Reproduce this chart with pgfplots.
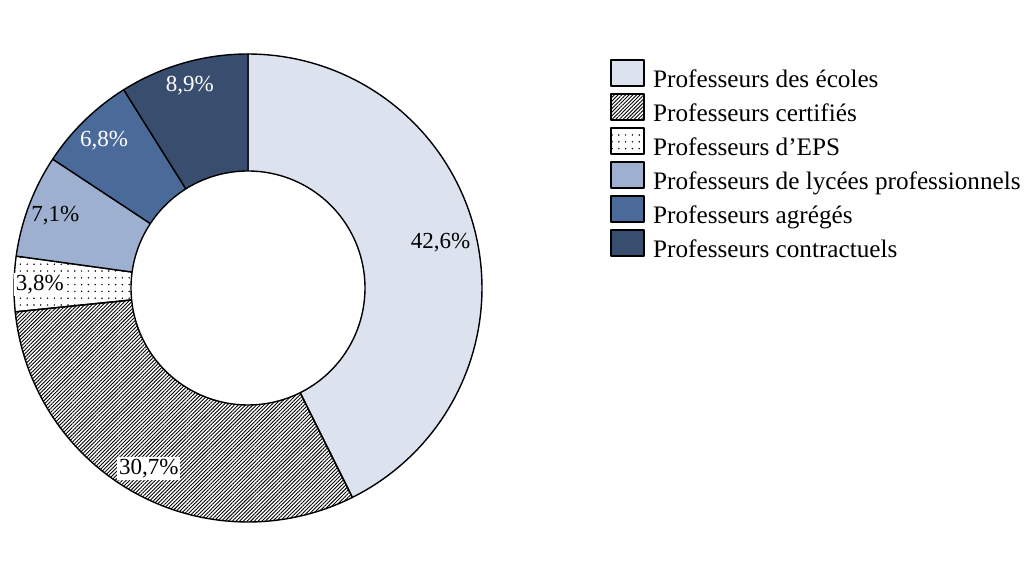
\documentclass[border=0pt]{standalone}
\usepackage{fontspec}
\setmainfont{Liberation Serif}
\usepackage{pgfplots}
\usepackage{pgfplotstable}
\pgfplotsset{compat=1.18}
\usetikzlibrary{patterns.meta}

\definecolor{cEcoles}{RGB}{220,227,239}
\definecolor{cLP}{RGB}{157,176,207}
\definecolor{cAgr}{RGB}{74,106,153}
\definecolor{cContr}{RGB}{57,78,110}

\pgfplotstableread{
value
42.6
30.7
3.8
7.1
6.8
8.9
}\shares

\pgfplotstablegetelem{0}{value}\of\shares\let\vA\pgfplotsretval
\pgfplotstablegetelem{1}{value}\of\shares\let\vB\pgfplotsretval
\pgfplotstablegetelem{2}{value}\of\shares\let\vC\pgfplotsretval
\pgfplotstablegetelem{3}{value}\of\shares\let\vD\pgfplotsretval
\pgfplotstablegetelem{4}{value}\of\shares\let\vE\pgfplotsretval
\pgfplotstablegetelem{5}{value}\of\shares\let\vF\pgfplotsretval
\pgfmathsetmacro\tot{\vA+\vB+\vC+\vD+\vE+\vF}
\pgfmathsetmacro\aO{90}
\pgfmathsetmacro\aA{90-(\vA)/\tot*360}
\pgfmathsetmacro\aB{90-(\vA+\vB)/\tot*360}
\pgfmathsetmacro\aC{90-(\vA+\vB+\vC)/\tot*360}
\pgfmathsetmacro\aD{90-(\vA+\vB+\vC+\vD)/\tot*360}
\pgfmathsetmacro\aE{90-(\vA+\vB+\vC+\vD+\vE)/\tot*360}
\pgfmathsetmacro\aF{-270}

\tikzset{lbl/.style={font=\fontsize{11.5}{12}\selectfont, inner sep=1pt}}

\newcommand\slice[3]{%
  \addplot[#3, samples at={-1,0,1,...,90}, variable=\t]
   ({ifthenelse(\t<0,0,cos((#1)+((#2)-(#1))*\t/90))},
    {ifthenelse(\t<0,0,sin((#1)+((#2)-(#1))*\t/90))}) -- cycle;}
\newcommand\plabel[5]{% start, end, radius, style, text
  \pgfmathsetmacro\midang{((#1)+(#2))/2}%
  \pgfmathsetmacro\lx{(#3)*cos(\midang)}%
  \pgfmathsetmacro\ly{(#3)*sin(\midang)}%
  \edef\tmp{\noexpand\node[lbl,\unexpanded{#4}] at (axis cs:\lx,\ly) {\unexpanded{#5}};}\tmp}

\begin{document}
\begin{tikzpicture}
\path[use as bounding box] (0,0) rectangle (517.5pt,288.5pt);
\begin{axis}[
  at={(124pt,144.5pt)}, anchor=center,
  width=234pt, height=234pt, scale only axis,
  hide axis, clip=false,
  xmin=-1, xmax=1, ymin=-1, ymax=1,
  every axis plot/.append style={draw=black, line width=0.7pt, line join=round},
  legend image code/.code={\draw[#1, line width=0.9pt] (0pt,-2.3pt) rectangle (16.5pt,10.7pt);},
  legend cell align=left,
  legend style={
    at={(1.2735,0.9906)}, anchor=north west,
    draw=none, fill=none, inner sep=0pt,
    font=\fontsize{12.6}{14}\selectfont,
    row sep=-0.4pt, column sep=4pt,
    nodes={inner sep=0pt, text height=9.5pt, text depth=3pt},
  },
]
\slice{\aO}{\aA}{fill=cEcoles}
\addlegendentry{Professeurs des \'ecoles}
\slice{\aA}{\aB}{pattern={Lines[angle=45,distance=1.3pt,line width=0.45pt]}}
\addlegendentry{Professeurs certifi\'es}
\slice{\aB}{\aC}{pattern={Dots[distance=3.4pt,radius=0.42pt]}}
\addlegendentry{Professeurs d'EPS}
\slice{\aC}{\aD}{fill=cLP}
\addlegendentry{Professeurs de lyc\'ees professionnels}
\slice{\aD}{\aE}{fill=cAgr}
\addlegendentry{Professeurs agr\'eg\'es}
\slice{\aE}{\aF}{fill=cContr}
\addlegendentry{Professeurs contractuels}
\addplot[forget plot, fill=white, domain=0:360, samples=181] ({0.5*cos(x)},{0.5*sin(x)}) -- cycle;
\plabel{\aO}{\aA}{0.846}{}{42,6\%}
\plabel{\aA}{\aB}{0.88}{fill=white}{30,7\%}
\plabel{\aB}{\aC}{0.89}{fill=white}{3,8\%}
\plabel{\aC}{\aD}{0.88}{}{7,1\%}
\plabel{\aD}{\aE}{0.88}{text=white}{6,8\%}
\plabel{\aE}{\aF}{0.90}{text=white}{8,9\%}
\end{axis}
\end{tikzpicture}
\end{document}
